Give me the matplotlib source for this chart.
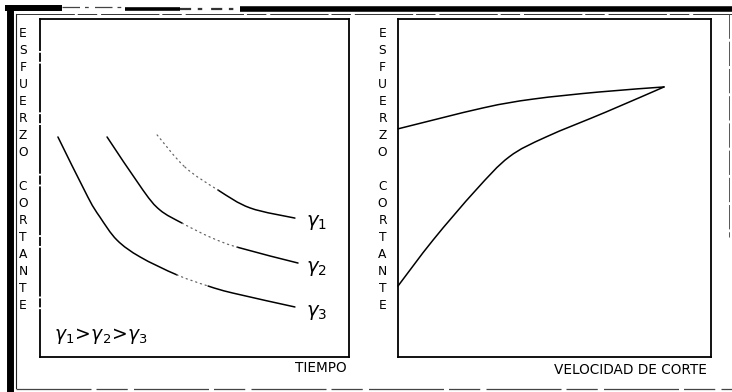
import matplotlib
matplotlib.use("Agg")
import matplotlib.pyplot as plt
from matplotlib.path import Path
from matplotlib.patches import PathPatch
import numpy as np

W, H = 732, 392
DPI = 100

# Left panel: shear stress versus time for three shear rates
t_g1 = [3.79, 4.69, 5.76, 6.80, 8.25]
s_g1 = [6.57, 5.62, 4.94, 4.41, 4.11]
t_g2 = [2.17, 3.33, 3.88, 4.60, 5.50, 6.38, 8.35]
s_g2 = [6.51, 4.94, 4.35, 3.96, 3.55, 3.25, 2.78]
t_g3 = [0.58, 1.55, 1.94, 2.49, 3.24, 4.43, 5.44, 6.25, 8.25]
s_g3 = [6.51, 4.73, 4.14, 3.46, 2.96, 2.43, 2.10, 1.89, 1.48]
curve_labels = [r"$\gamma_1$", r"$\gamma_2$", r"$\gamma_3$"]

# Right panel: shear stress versus shear rate (two branches of a loop)
v_up = [0.00, 2.72, 4.31, 6.42, 8.50]
s_up = [6.75, 7.37, 7.63, 7.84, 7.99]
v_low = [0.00, 1.12, 2.49, 3.55, 4.73, 6.65, 8.50]
s_low = [2.10, 3.46, 4.94, 5.92, 6.51, 7.25, 7.99]

y_letters = list("ESFUERZO") + [""] + list("CORTANTE")
x_title_left = "TIEMPO"
x_title_right = "VELOCIDAD DE CORTE"
relation = r"$\gamma_1\!>\!\gamma_2\!>\!\gamma_3$"

fig = plt.figure(figsize=(W / DPI, H / DPI), dpi=DPI)
fig.patch.set_facecolor("white")

# Full-figure layer in pixel units for the frame and annotations
bg = fig.add_axes([0, 0, 1, 1])
bg.set_xlim(0, W)
bg.set_ylim(H, 0)
bg.axis("off")

# Outer frame
bg.plot([9.5, 9.5], [5, H], color="black", lw=5.0, solid_capstyle="butt")
bg.plot([16, 16], [14, 388], color="#222222", lw=0.8)
bg.plot([5, 62], [8, 8], color="black", lw=4.3, solid_capstyle="butt")
bg.plot([62, 125], [7, 7], color="#444444", lw=0.9, ls=(0, (14, 4, 3, 5)))
bg.plot([125, 180], [8.5, 8.5], color="black", lw=2.6, solid_capstyle="butt")
bg.plot([180, 240], [8.5, 8.5], color="#333333", lw=1.6, ls=(0, (5, 3, 2, 4)))
bg.plot([240, W], [8.5, 8.5], color="black", lw=4.0, solid_capstyle="butt")
bg.plot([16, W], [14, 14], color="#333333", lw=0.7, ls=(0, (60, 3, 20, 4)))
bg.plot([16, W], [388.5, 388.5], color="#444444", lw=0.9, ls=(0, (60, 4, 25, 5)))
bg.plot([729, 729], [14, 237], color="#555555", lw=0.7, ls=(0, (25, 3)))

# Stacked vertical axis titles
y0, dy = 33, 17.06
for i, ch in enumerate(y_letters):
    if ch:
        bg.text(23, y0 + i * dy, ch, ha="center", va="center",
                fontsize=8.8, family="DejaVu Sans")
        bg.text(382.5, y0 + i * dy, ch, ha="center", va="center",
                fontsize=8.8, family="DejaVu Sans")

bg.text(347, 368, x_title_left, ha="right", va="center",
        fontsize=9.8, family="DejaVu Sans")
bg.text(707, 370, x_title_right, ha="right", va="center",
        fontsize=9.8, family="DejaVu Sans")


def panel(x0, x1):
    ax = fig.add_axes([x0 / W, (H - 357) / H, (x1 - x0) / W, 338 / H])
    ax.set_xlim(0, 10)
    ax.set_ylim(0, 10)
    ax.set_xticks([])
    ax.set_yticks([])
    ax.patch.set_alpha(0)
    for sp in ax.spines.values():
        sp.set_linewidth(1.3)
        sp.set_color("black")
    return ax


def smooth_path(x, y, a, b):
    """Cubic Bezier path through points a..b, tangents from the neighbours."""
    p = np.column_stack([x, y]).astype(float)
    n = len(p)
    verts = [p[a]]
    codes = [Path.MOVETO]
    for i in range(a, b):
        p_prev = p[max(i - 1, 0)]
        p_next2 = p[min(i + 2, n - 1)]
        c1 = p[i] + (p[i + 1] - p_prev) / 6.0
        c2 = p[i + 1] - (p_next2 - p[i]) / 6.0
        verts += [c1, c2, p[i + 1]]
        codes += [Path.CURVE4] * 3
    return Path(verts, codes)


def draw(ax, x, y, a, b, **kw):
    ax.add_patch(PathPatch(smooth_path(x, y, a, b), fill=False,
                           capstyle="round", joinstyle="round",
                           clip_on=False, **kw))


axL = panel(40, 349)
axL.spines["left"].set_linestyle((0, (26, 2, 4, 2)))
axR = panel(398, 711)

# Curves on the left panel; faint stretches drawn dotted
curves = [(t_g1, s_g1, [(2, 4)], [(0, 1), (1, 2)]),
          (t_g2, s_g2, [(0, 3), (5, 6)], [(3, 5)]),
          (t_g3, s_g3, [(0, 5), (6, 8)], [(5, 6)])]
for (t, s, solid, faint) in curves:
    for a, b in solid:
        draw(axL, t, s, a, b, edgecolor="black", lw=1.1)
    for a, b in faint:
        draw(axL, t, s, a, b, edgecolor="#666666", lw=0.9,
             linestyle=(0, (1, 3)))

label_y = [222, 268, 313]
for lab, yy in zip(curve_labels, label_y):
    bg.text(306, yy, lab, ha="left", va="center", fontsize=14,
            family="DejaVu Sans")

bg.text(54, 336, relation, ha="left", va="center", fontsize=13.5,
        family="DejaVu Sans")

draw(axR, v_up, s_up, 0, len(v_up) - 1, edgecolor="black", lw=1.1)
draw(axR, v_low, s_low, 0, len(v_low) - 1, edgecolor="black", lw=1.1)

fig.savefig("out.png", dpi=DPI, facecolor="white")
